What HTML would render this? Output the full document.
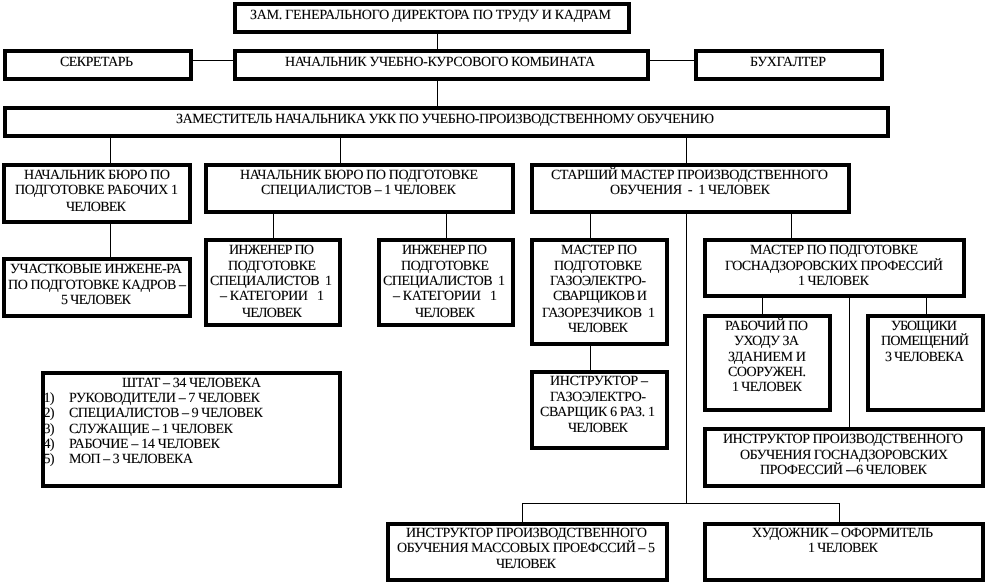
<!DOCTYPE html>
<html lang="ru"><head><meta charset="utf-8"><title>Структура</title>
<style>
html,body{margin:0;padding:0;background:#fff;width:988px;height:585px;overflow:hidden}
svg{display:block}
text{font-family:"Liberation Serif","Noto Serif CJK SC",serif;font-size:14px;fill:#000;stroke:#000;stroke-width:.12;white-space:pre}
.b{fill:none;stroke:#000;stroke-width:4}
.l{stroke:#000;stroke-width:1;fill:none}
</style></head><body>
<svg width="988" height="585" viewBox="0 0 988 585" xmlns="http://www.w3.org/2000/svg" shape-rendering="crispEdges">
<rect width="988" height="585" fill="#fff"/>
<g class="l">
<path class="l" d="M437.5 34V49M437.5 81V106M193 60.5H233M650 60.5H694M110.5 138V163M340.5 138V163M686.5 138V163M686.5 214V503.5M522.5 522V503.5H839.5V522M590.5 214V238M791.5 214V238M273.5 214V238M446.5 214V238M110.5 224V257M590.5 346V370M762.5 298V314M849.5 298V427M926.5 298V314"/>
</g>
<g text-rendering="geometricPrecision">
<text x="250" y="19" textLength="361" lengthAdjust="spacing">ЗАМ. ГЕНЕРАЛЬНОГО ДИРЕКТОРА ПО ТРУДУ И КАДРАМ</text>
<text x="60" y="66" textLength="73" lengthAdjust="spacing">СЕКРЕТАРЬ</text>
<text x="285" y="66" textLength="310" lengthAdjust="spacing">НАЧАЛЬНИК УЧЕБНО-КУРСОВОГО КОМБИНАТА</text>
<text x="750" y="66" textLength="76" lengthAdjust="spacing">БУХГАЛТЕР</text>
<text x="176" y="123" textLength="538" lengthAdjust="spacing">ЗАМЕСТИТЕЛЬ НАЧАЛЬНИКА УКК ПО УЧЕБНО-ПРОИЗВОДСТВЕННОМУ ОБУЧЕНИЮ</text>

<text x="24" y="179" textLength="146" lengthAdjust="spacing">НАЧАЛЬНИК БЮРО ПО</text>
<text x="15" y="194" textLength="163" lengthAdjust="spacing">ПОДГОТОВКЕ РАБОЧИХ 1</text>
<text x="66" y="211" textLength="60" lengthAdjust="spacing">ЧЕЛОВЕК</text>

<text x="240" y="179" textLength="238" lengthAdjust="spacing">НАЧАЛЬНИК БЮРО ПО ПОДГОТОВКЕ</text>
<text x="261" y="194" textLength="195" lengthAdjust="spacing">СПЕЦИАЛИСТОВ – 1 ЧЕЛОВЕК</text>

<text x="551" y="179" textLength="277" lengthAdjust="spacing">СТАРШИЙ МАСТЕР ПРОИЗВОДСТВЕННОГО</text>
<text x="610" y="194" textLength="160" lengthAdjust="spacing">ОБУЧЕНИЯ  -  1 ЧЕЛОВЕК</text>

<text x="10" y="273" textLength="172" lengthAdjust="spacing">УЧАСТКОВЫЕ ИНЖЕНЕ-РА</text>
<text x="8" y="289" textLength="178" lengthAdjust="spacing">ПО ПОДГОТОВКЕ КАДРОВ –</text>
<text x="61" y="304" textLength="70" lengthAdjust="spacing">5 ЧЕЛОВЕК</text>

<text x="229" y="254" textLength="85" lengthAdjust="spacing">ИНЖЕНЕР ПО</text>
<text x="228" y="270" textLength="88" lengthAdjust="spacing">ПОДГОТОВКЕ</text>
<text x="210" y="285" textLength="122" lengthAdjust="spacing">СПЕЦИАЛИСТОВ  1</text>
<text x="220" y="300" textLength="104" lengthAdjust="spacing">– КАТЕГОРИИ   1</text>
<text x="242" y="317" textLength="60" lengthAdjust="spacing">ЧЕЛОВЕК</text>

<text x="402" y="254" textLength="85" lengthAdjust="spacing">ИНЖЕНЕР ПО</text>
<text x="401" y="270" textLength="88" lengthAdjust="spacing">ПОДГОТОВКЕ</text>
<text x="383" y="285" textLength="122" lengthAdjust="spacing">СПЕЦИАЛИСТОВ  1</text>
<text x="393" y="300" textLength="104" lengthAdjust="spacing">– КАТЕГОРИИ   1</text>
<text x="415" y="317" textLength="60" lengthAdjust="spacing">ЧЕЛОВЕК</text>

<text x="561" y="254" textLength="76" lengthAdjust="spacing">МАСТЕР ПО</text>
<text x="554" y="270" textLength="88" lengthAdjust="spacing">ПОДГОТОВКЕ</text>
<text x="550" y="285" textLength="96" lengthAdjust="spacing">ГАЗОЭЛЕКТРО-</text>
<text x="553" y="300" textLength="94" lengthAdjust="spacing">СВАРЩИКОВ И</text>
<text x="542" y="317" textLength="113" lengthAdjust="spacing">ГАЗОРЕЗЧИКОВ  1</text>
<text x="568" y="332" textLength="60" lengthAdjust="spacing">ЧЕЛОВЕК</text>

<text x="750" y="254" textLength="168" lengthAdjust="spacing">МАСТЕР ПО ПОДГОТОВКЕ</text>
<text x="725" y="270" textLength="218" lengthAdjust="spacing">ГОСНАДЗОРОВСКИХ ПРОФЕССИЙ</text>
<text x="798" y="285" textLength="71" lengthAdjust="spacing">1 ЧЕЛОВЕК</text>

<text x="725" y="330" textLength="83" lengthAdjust="spacing">РАБОЧИЙ ПО</text>
<text x="734" y="345" textLength="65" lengthAdjust="spacing">УХОДУ ЗА</text>
<text x="728" y="361" textLength="78" lengthAdjust="spacing">ЗДАНИЕМ И</text>
<text x="728" y="376" textLength="78" lengthAdjust="spacing">СООРУЖЕН.</text>
<text x="732" y="391" textLength="70" lengthAdjust="spacing">1 ЧЕЛОВЕК</text>

<text x="891" y="330" textLength="66" lengthAdjust="spacing">УБОЩИКИ</text>
<text x="881" y="345" textLength="88" lengthAdjust="spacing">ПОМЕЩЕНИЙ</text>
<text x="885" y="361" textLength="79" lengthAdjust="spacing">3 ЧЕЛОВЕКА</text>

<text x="550" y="385" textLength="98" lengthAdjust="spacing">ИНСТРУКТОР –</text>
<text x="550" y="401" textLength="96" lengthAdjust="spacing">ГАЗОЭЛЕКТРО-</text>
<text x="540" y="416" textLength="115" lengthAdjust="spacing">СВАРЩИК 6 РАЗ. 1</text>
<text x="568" y="432" textLength="60" lengthAdjust="spacing">ЧЕЛОВЕК</text>

<text x="723" y="443" textLength="240" lengthAdjust="spacing">ИНСТРУКТОР ПРОИЗВОДСТВЕННОГО</text>
<text x="740" y="459" textLength="208" lengthAdjust="spacing">ОБУЧЕНИЯ ГОСНАДЗОРОВСКИХ</text>
<text x="760" y="474" textLength="167" lengthAdjust="spacing">ПРОФЕССИЙ -–6 ЧЕЛОВЕК</text>

<text x="122" y="387" textLength="139" lengthAdjust="spacing">ШТАТ – 34 ЧЕЛОВЕКА</text>
<text x="43.5" y="402" textLength="11" lengthAdjust="spacing">1)</text><text x="69" y="402" textLength="191" lengthAdjust="spacing">РУКОВОДИТЕЛИ – 7 ЧЕЛОВЕК</text>
<text x="43.5" y="417" textLength="11" lengthAdjust="spacing">2)</text><text x="69" y="417" textLength="194" lengthAdjust="spacing">СПЕЦИАЛИСТОВ – 9 ЧЕЛОВЕК</text>
<text x="43.5" y="433" textLength="11" lengthAdjust="spacing">3)</text><text x="69" y="433" textLength="164" lengthAdjust="spacing">СЛУЖАЩИЕ – 1 ЧЕЛОВЕК</text>
<text x="43.5" y="448" textLength="11" lengthAdjust="spacing">4)</text><text x="69" y="448" textLength="151" lengthAdjust="spacing">РАБОЧИЕ – 14 ЧЕЛОВЕК</text>
<text x="43.5" y="463" textLength="11" lengthAdjust="spacing">5)</text><text x="69" y="463" textLength="124" lengthAdjust="spacing">МОП – 3 ЧЕЛОВЕКА</text>

<text x="406" y="537" textLength="241" lengthAdjust="spacing">ИНСТРУКТОР ПРОИЗВОДСТВЕННОГО</text>
<text x="397" y="552" textLength="258" lengthAdjust="spacing">ОБУЧЕНИЯ МАССОВЫХ ПРОЕФССИЙ – 5</text>
<text x="496" y="568" textLength="60" lengthAdjust="spacing">ЧЕЛОВЕК</text>

<text x="752" y="537" textLength="181" lengthAdjust="spacing">ХУДОЖНИК – ОФОРМИТЕЛЬ</text>
<text x="808" y="552" textLength="70" lengthAdjust="spacing">1 ЧЕЛОВЕК</text>
</g>
<g>
<rect class="b" x="235" y="4" width="394" height="28"/>
<rect class="b" x="5" y="51" width="186" height="28"/>
<rect class="b" x="235" y="51" width="413" height="28"/>
<rect class="b" x="696" y="51" width="186" height="28"/>
<rect class="b" x="5" y="108" width="883" height="28"/>
<rect class="b" x="4" y="165" width="186" height="57"/>
<rect class="b" x="206" y="165" width="307" height="47"/>
<rect class="b" x="532" y="165" width="317" height="47"/>
<rect class="b" x="4" y="259" width="186" height="57"/>
<rect class="b" x="206" y="240" width="134" height="85"/>
<rect class="b" x="379" y="240" width="134" height="85"/>
<rect class="b" x="532" y="240" width="135" height="104"/>
<rect class="b" x="705" y="240" width="259" height="56"/>
<rect class="b" x="705" y="316" width="125" height="94"/>
<rect class="b" x="868" y="316" width="115" height="94"/>
<rect class="b" x="532" y="372" width="135" height="76"/>
<rect class="b" x="705" y="429" width="278" height="57"/>
<rect class="b" x="43" y="373" width="297" height="113"/>
<rect class="b" x="388" y="524" width="279" height="56"/>
<rect class="b" x="705" y="524" width="278" height="56"/>
</g>
</svg>
</body></html>
